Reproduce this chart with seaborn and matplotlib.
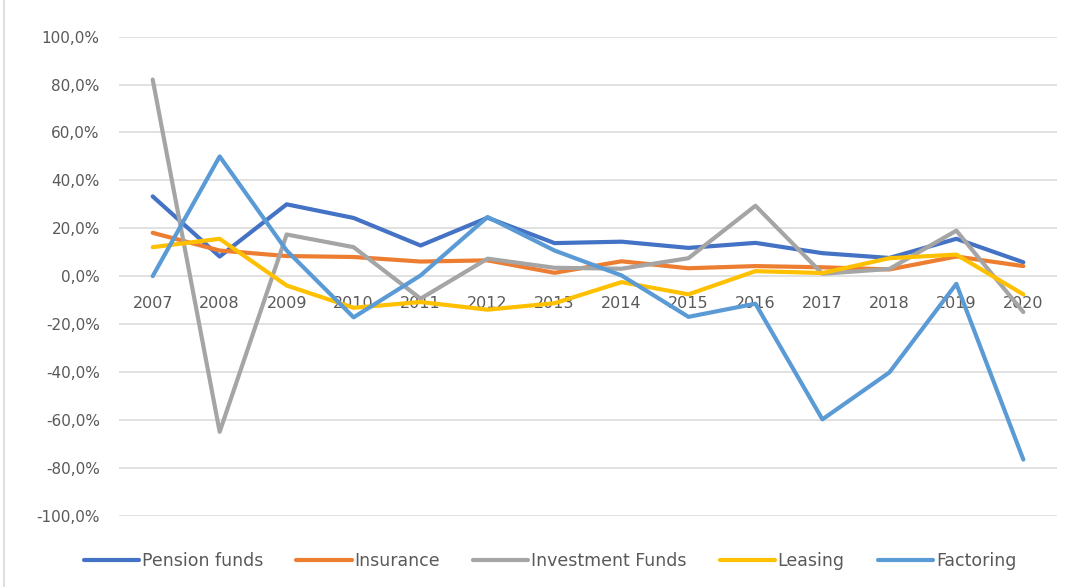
#%% IMPORTS                    ~~~~~~~~~~~~~~~~~~~~~~~~~~~~~~~~~~~~~~~~~~~~
import numpy  as np
import pandas as pd
import seaborn as sns
import matplotlib
matplotlib.use("Agg")
from   matplotlib import pyplot as plt
from   matplotlib.lines import Line2D

#%% DATA                       ~~~~~~~~~~~~~~~~~~~~~~~~~~~~~~~~~~~~~~~~~~~~
years = [2007, 2008, 2009, 2010, 2011, 2012, 2013,
         2014, 2015, 2016, 2017, 2018, 2019, 2020]

pension_funds    = [33.3,   8.2, 30.0,  24.3, 12.8,  24.4,  13.8,
                    14.4,  11.8, 13.9,   9.6,  7.6,  15.6,   5.8]
insurance        = [18.1,  10.7,  8.4,   8.0,  6.1,   6.6,   1.4,
                     6.2,   3.3,  4.2,   3.7,  2.8,   8.2,   4.2]
investment_funds = [82.1, -65.0, 17.4,  12.1, -9.4,   7.3,   3.5,
                     3.1,   7.5, 29.4,   1.0,  3.0,  19.0, -15.0]
leasing          = [12.1,  15.6, -3.9, -13.2, -10.8, -14.0, -11.3,
                    -2.5,  -7.6,  2.1,   1.3,  7.5,   9.0,  -7.6]
factoring        = [ 0.0,  50.0, 10.7, -17.2,  0.3,  24.7,  10.7,
                     0.3, -17.0, -11.5, -59.8, -40.2, -3.2, -76.6]

series_names  = ["Pension funds", "Insurance", "Investment Funds", "Leasing", "Factoring"]
series_colors = ["#4472C4", "#ED7D31", "#A5A5A5", "#FFC000", "#5B9BD5"]
y_ticks = [-100, -80, -60, -40, -20, 0, 20, 40, 60, 80, 100]

#%% CONFIGURATION               ~~~~~~~~~~~~~~~~~~~~~~~~~~~~~~~~~~~~~~~~~~~~
sns.set_style("white")
plt.rcParams['font.family'] = ['DejaVu Sans']
text_color = "#595959"
grid_color = "#D9D9D9"

#%% MAIN CODE                  ~~~~~~~~~~~~~~~~~~~~~~~~~~~~~~~~~~~~~~~~~~~~
frames = []
for name, vals in zip(series_names, [pension_funds, insurance, investment_funds,
                                     leasing, factoring]):
    frames.append(pd.DataFrame({"Year": years, "Value": vals, "Series": name}))
#end
df = pd.concat(frames, ignore_index=True)

fig = plt.figure(figsize=(10.74, 5.87), dpi=100)
ax = fig.add_axes([0.111, 0.1216, 0.873, 0.8159])

for yv in y_ticks:
    ax.axhline(yv, color=grid_color, lw=1.1, zorder=0)
#end

sns.lineplot(data=df, x="Year", y="Value", hue="Series",
             hue_order=series_names, palette=series_colors,
             linewidth=3.0, sort=False, legend=False, ax=ax)
for ln in ax.lines[len(y_ticks):]:
    ln.set_solid_capstyle("round")
    ln.set_solid_joinstyle("round")
#end

ax.set_xlim(years[0] - 0.5, years[-1] + 0.5)
ax.set_ylim(-100, 100)
ax.set_xticks(years)
ax.set_xticklabels([str(y) for y in years])
ax.set_yticks(y_ticks)
ax.set_yticklabels([f"{v:.1f}%".replace(".", ",") for v in y_ticks])
ax.set_xlabel("")
ax.set_ylabel("")

for side in ["top", "right", "left"]:
    ax.spines[side].set_visible(False)
#end
ax.spines["bottom"].set_position(("data", 0))
ax.spines["bottom"].set_visible(False)

ax.tick_params(axis="y", length=0, pad=14, labelsize=11, labelcolor=text_color)
ax.tick_params(axis="x", length=0, pad=14, labelsize=11.5, labelcolor=text_color)

handles = [Line2D([0], [0], color=c, lw=3.0, solid_capstyle="round")
           for c in series_colors]
fig.legend(handles, series_names, loc="center",
           bbox_to_anchor=(0.512, 1 - 561 / 587), ncol=5, frameon=False,
           handlelength=3.2, handletextpad=0.15, columnspacing=1.9,
           fontsize=12.5, labelcolor=text_color)

# thin chart-area border on the left edge
fig.add_artist(Line2D([4 / 1074, 4 / 1074], [0, 1], color=grid_color, lw=1.2,
                      transform=fig.transFigure))

fig.savefig("out.png", dpi=100)
